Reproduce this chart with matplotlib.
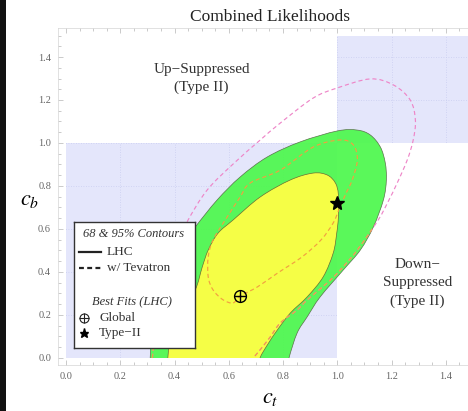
import numpy as np
import matplotlib
matplotlib.use("Agg")
import matplotlib.pyplot as plt
from matplotlib.path import Path
from matplotlib.patches import PathPatch, Rectangle
from matplotlib.ticker import MultipleLocator

plt.rcParams['font.family'] = 'serif'
plt.rcParams['font.serif'] = ['Liberation Serif', 'DejaVu Serif']
plt.rcParams['mathtext.fontset'] = 'stix'

# LHC 95% region boundary (c_t, c_b), closed below c_b = 0
lhc95_ct = [0.300, 0.310, 0.314, 0.339, 0.384, 0.428, 0.476, 0.557, 0.642, 0.742,
            0.863, 1.000, 1.074, 1.122, 1.159, 1.177, 1.181, 1.170, 1.133, 1.085,
            1.022, 0.937, 0.889, 0.852, 0.822, 0.815]
lhc95_cb = [-0.060, 0.000, 0.130, 0.270, 0.409, 0.526, 0.609, 0.735, 0.842, 0.935,
            1.005, 1.056, 1.060, 1.037, 0.981, 0.907, 0.828, 0.735, 0.609, 0.502,
            0.409, 0.284, 0.191, 0.116, 0.000, -0.060]

# LHC 68% region boundary
lhc68_ct = [0.370, 0.375, 0.384, 0.421, 0.476, 0.502, 0.524, 0.560, 0.616, 0.716,
            0.827, 0.911, 0.963, 0.993, 1.004, 1.004, 0.998, 0.985, 0.948, 0.889,
            0.827, 0.779, 0.742, 0.715, 0.705]
lhc68_cb = [-0.060, 0.000, 0.084, 0.200, 0.316, 0.423, 0.502, 0.580, 0.642, 0.749,
            0.828, 0.860, 0.851, 0.814, 0.760, 0.656, 0.581, 0.488, 0.377, 0.284,
            0.209, 0.130, 0.060, 0.000, -0.060]

# with Tevatron: 95% contour (open, ends on c_b = 0)
tev95_ct = [0.318, 0.330, 0.355, 0.395, 0.446, 0.520, 0.620, 0.716, 0.790, 0.911,
            1.000, 1.122, 1.207, 1.269, 1.288, 1.280, 1.258, 1.221, 1.185, 1.150,
            1.074, 1.011, 0.963, 0.889, 0.852, 0.790, 0.753, 0.715, 0.690]
tev95_cb = [0.000, 0.150, 0.320, 0.500, 0.633, 0.781, 0.907, 1.014, 1.093, 1.209,
            1.256, 1.298, 1.270, 1.200, 1.107, 1.014, 0.921, 0.814, 0.721, 0.640,
            0.502, 0.409, 0.349, 0.270, 0.223, 0.163, 0.098, 0.037, 0.000]

# with Tevatron: 68% contour (closed)
tev68_ct = [0.616, 0.642, 0.705, 0.780, 0.870, 0.940, 0.985, 1.007, 1.030, 1.055,
            1.074, 1.059, 1.011, 0.911, 0.790, 0.679, 0.642, 0.594, 0.542, 0.524,
            0.524, 0.542, 0.579]
tev68_cb = [0.256, 0.288, 0.330, 0.395, 0.470, 0.549, 0.628, 0.693, 0.760, 0.828,
            0.921, 0.991, 1.014, 0.981, 0.874, 0.814, 0.749, 0.656, 0.549, 0.470,
            0.377, 0.316, 0.270]

best_global = (0.64, 0.29)
best_type2 = (1.00, 0.72)

# suppressed (Type II) boxes: (ct0, cb0, width, height)
shade_boxes = [(0.0, 0.0, 1.0, 1.0), (1.0, 1.0, 0.5, 0.5)]
grid_vals = [0.2, 0.4, 0.6, 0.8, 1.0, 1.2, 1.4]
tick_vals = [0.0, 0.2, 0.4, 0.6, 0.8, 1.0, 1.2, 1.4]

W, H = 468, 411
GREEN = '#4cf84c'
YELLOW = '#ffff45'
SHADE = '#e4e6fb'
PINK = '#ee86c8'
ORANGE = '#f2a040'


def smooth_path(xs, ys, closed=False):
    """Catmull-Rom curve through the given points as a cubic Bezier path."""
    pts = np.column_stack([xs, ys])
    n = len(pts)
    if closed:
        ext = np.vstack([pts[-1], pts, pts[0], pts[1]])
        nseg = n
    else:
        ext = np.vstack([pts[0], pts, pts[-1]])
        nseg = n - 1
    verts = [pts[0]]
    codes = [Path.MOVETO]
    for i in range(nseg):
        p0, p1, p2, p3 = ext[i], ext[i + 1], ext[i + 2], ext[i + 3]
        verts += [p1 + (p2 - p0) / 6.0, p2 - (p3 - p1) / 6.0, p2]
        codes += [Path.CURVE4] * 3
    if closed:
        verts.append(pts[0])
        codes.append(Path.CLOSEPOLY)
    return Path(verts, codes)


def px(x0, y0, x1, y1):
    """Figure rect from pixel box (top-left origin)."""
    return [x0 / W, 1 - y1 / H, (x1 - x0) / W, (y1 - y0) / H]


fig = plt.figure(figsize=(W / 100, H / 100), dpi=100)
ax = fig.add_axes(px(58, 28, 481, 365))
ax.set_xlim(-0.03, 1.53)
ax.set_ylim(-0.033, 1.535)

plot_area = Rectangle((0, 0), 1.5, 1.5, transform=ax.transData)

for (x0, y0, w, h) in shade_boxes:
    box = Rectangle((x0, y0), w, h, facecolor=SHADE, edgecolor='none', zorder=0.5)
    ax.add_patch(box)
    for g in grid_vals:
        for ln in (ax.axvline(g, color='#c9cdf0', lw=0.6, ls=(0, (1, 2)), zorder=0.6),
                   ax.axhline(g, color='#c9cdf0', lw=0.6, ls=(0, (1, 2)), zorder=0.6)):
            ln.set_clip_path(box)

green = PathPatch(smooth_path(lhc95_ct, lhc95_cb, closed=True), facecolor=GREEN,
                  edgecolor='#556644', lw=0.5, alpha=0.92, zorder=1)
yellow = PathPatch(smooth_path(lhc68_ct, lhc68_cb, closed=True), facecolor=YELLOW,
                   edgecolor='#666633', lw=0.5, alpha=0.95, zorder=2)
for p in (green, yellow):
    ax.add_patch(p)
    p.set_clip_path(plot_area)

dash = (0, (3.5, 2.5))
tev95 = smooth_path(tev95_ct, tev95_cb)
outer = PathPatch(tev95, fill=False, edgecolor=PINK, lw=0.85, ls=dash, zorder=3)
ax.add_patch(outer)
outer.set_clip_path(plot_area)
# same contour where it runs over the filled LHC regions
inner = PathPatch(tev95, fill=False, edgecolor=ORANGE, lw=0.85, ls=dash, zorder=3.1)
ax.add_patch(inner)
inner.set_clip_path(green.get_path(), green.get_transform())

tev68 = PathPatch(smooth_path(tev68_ct, tev68_cb, closed=True), fill=False,
                  edgecolor=ORANGE, lw=0.85, ls=dash, zorder=3)
ax.add_patch(tev68)

ax.plot(*best_global, marker='o', ms=8.5, mfc='none', mec='k', mew=1.0, zorder=4)
ax.plot(*best_global, marker='+', ms=8.5, color='k', mew=1.0, zorder=4)
ax.plot(*best_type2, marker='*', ms=10, color='k', zorder=4)

ax.text(0.50, 1.30, 'Up\u2212Suppressed\n(Type II)', ha='center', va='center',
        fontsize=11, color='#333333', linespacing=1.35)
ax.text(1.295, 0.35, 'Down\u2212\nSuppressed\n(Type II)', ha='center', va='center',
        fontsize=11, color='#333333', linespacing=1.5)

# frame and ticks
for s in ax.spines.values():
    s.set_color('#d4d4d4')
    s.set_linewidth(0.5)
ax.set_xticks(tick_vals)
ax.set_yticks(tick_vals)
ax.set_xticklabels([f'{v:.1f}' for v in tick_vals])
ax.set_yticklabels([f'{v:.1f}' for v in tick_vals])
ax.xaxis.set_minor_locator(MultipleLocator(0.05))
ax.yaxis.set_minor_locator(MultipleLocator(0.05))
ax.tick_params(which='both', direction='in', color='#b5b5b5', width=0.5,
               top=True, right=True, labelsize=7.5, labelcolor='#666666')
ax.tick_params(which='major', length=3.5, pad=5)
ax.tick_params(which='minor', length=2)

fig.text(270 / W, 1 - 17 / H, 'Combined Likelihoods', ha='center', va='center',
         fontsize=12.5, color='#222222')
fig.text(30 / W, 1 - 201 / H, '$c_b$', ha='center', va='center', fontsize=16)
fig.text(270 / W, 1 - 398 / H, '$c_t$', ha='center', va='center', fontsize=16)

# legend box, drawn in pixel units
leg = fig.add_axes(px(74, 222, 195, 348))
leg.set_xlim(74, 195)
leg.set_ylim(348, 222)
leg.set_xticks([])
leg.set_yticks([])
for s in leg.spines.values():
    s.set_color('#333333')
    s.set_linewidth(1.0)
leg.text(134, 234, '68 & 95% Contours', style='italic', ha='center', va='center',
         fontsize=9, color='#333333')
leg.plot([79, 101], [252, 252], color='#222222', lw=1.6)
leg.text(107, 252, 'LHC', ha='left', va='center', fontsize=9.5, color='#333333')
leg.plot([79, 101], [268, 268], color='#222222', lw=1.6, ls=(0, (2.2, 1.5)))
leg.text(107, 268, 'w/ Tevatron', ha='left', va='center', fontsize=9.5, color='#333333')
leg.text(132, 302, 'Best Fits (LHC)', style='italic', ha='center', va='center',
         fontsize=9, color='#333333')
leg.plot(84, 318, marker='o', ms=6.5, mfc='none', mec='#222222', mew=0.8)
leg.plot(84, 318, marker='+', ms=6.5, color='#222222', mew=0.8)
leg.text(99, 318, 'Global', ha='left', va='center', fontsize=9.5, color='#333333')
leg.plot(84, 333, marker='*', ms=6.5, color='k')
leg.text(99, 333, 'Type\u2212II', ha='left', va='center', fontsize=9.5, color='#333333')

# dark strip on the left edge
fig.patches.append(Rectangle((0, 0), 6 / W, 1, transform=fig.transFigure,
                             facecolor='#111111', edgecolor='none'))

fig.savefig('out.png', dpi=100)
